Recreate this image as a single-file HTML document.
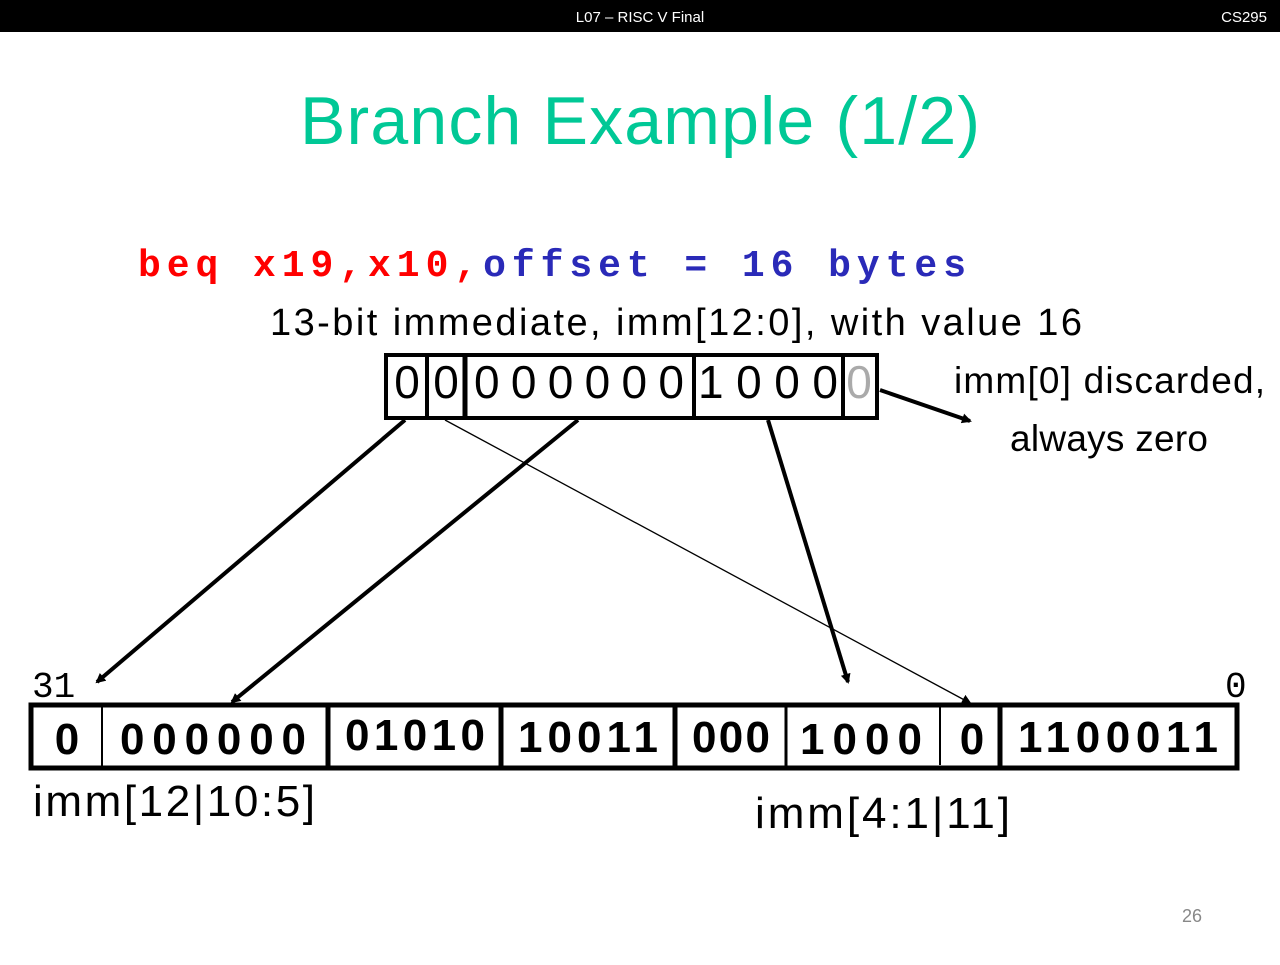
<!DOCTYPE html>
<html><head><style>
body{margin:0;width:1280px;height:960px;background:#fff;overflow:hidden}
</style></head><body>
<svg width="1280" height="960" xmlns="http://www.w3.org/2000/svg" font-family="Liberation Sans, sans-serif">
<defs><marker id="a" markerWidth="10" markerHeight="10" refX="8" refY="5" orient="auto" markerUnits="userSpaceOnUse"><path d="M0,0 L10,5 L0,10 z" fill="#000"/></marker></defs>
<rect x="0" y="0" width="1280" height="32" fill="#000"/>
<text x="640" y="22" fill="#fff" font-size="15" text-anchor="middle">L07 – RISC V Final</text>
<text x="1267" y="22" fill="#fff" font-size="15" text-anchor="end">CS295</text>
<text x="640" y="144" fill="#00c896" font-size="68" text-anchor="middle" textLength="680">Branch Example (1/2)</text>
<text x="138" y="276" font-family="Liberation Mono, monospace" font-weight="bold" font-size="38" textLength="828"><tspan fill="#f00">beq  x19,x10,</tspan><tspan fill="#2a2ab8">offset = 16 bytes</tspan></text>
<text x="270" y="335" font-size="38" textLength="812">13-bit immediate, imm[12:0], with value 16</text>
<g fill="none" stroke="#000" stroke-width="4">
<rect x="386" y="355" width="491" height="63"/>
<line x1="427" y1="355" x2="427" y2="418"/><line x1="465" y1="355" x2="465" y2="418" stroke-width="5"/>
<line x1="694" y1="355" x2="694" y2="418"/><line x1="843" y1="355" x2="843" y2="418"/>
</g>
<g font-size="46" font-weight="300" text-anchor="middle">
<text x="407" y="398">0</text><text x="446" y="398">0</text>
<text x="579" y="398" textLength="210">000000</text>
<text x="768" y="398" textLength="140">1000</text>
<text x="859" y="398" fill="#aaa">0</text>
</g>
<text x="954" y="393" font-size="37" textLength="311">imm[0] discarded,</text>
<text x="1010" y="451" font-size="37" textLength="198">always zero</text>
<g stroke="#000" stroke-width="4" marker-end="url(#a)">
<line x1="405" y1="420" x2="97" y2="682"/>
<line x1="578" y1="420" x2="232" y2="702"/>
<line x1="768" y1="420" x2="848" y2="682"/>
<line x1="880" y1="390" x2="970" y2="421"/>
</g>
<line x1="445" y1="420" x2="970" y2="703" stroke="#000" stroke-width="1.3" marker-end="url(#a)"/>
<text x="32" y="697" font-size="36" font-family="Liberation Mono, monospace">31</text>
<text x="1225" y="697" font-size="36" font-family="Liberation Mono, monospace">0</text>
<g fill="none" stroke="#000" stroke-width="5">
<rect x="31" y="705" width="1206" height="63"/>
<line x1="102" y1="705" x2="102" y2="768" stroke-width="2"/>
<line x1="328" y1="705" x2="328" y2="768"/>
<line x1="501" y1="705" x2="501" y2="768"/>
<line x1="675" y1="705" x2="675" y2="768"/>
<line x1="786" y1="705" x2="786" y2="768" stroke-width="3"/>
<line x1="940" y1="705" x2="940" y2="765" stroke-width="2"/>
<line x1="1000" y1="705" x2="1000" y2="768"/>
</g>
<g font-size="44" text-anchor="middle" font-weight="bold">
<text x="67" y="754">0</text>
<text x="213" y="754" textLength="186">000000</text>
<text x="415" y="750" textLength="140">01010</text>
<text x="588" y="752" textLength="140">10011</text>
<text x="731" y="752" textLength="78">000</text>
<text x="861" y="754" textLength="122">1000</text>
<text x="972" y="754">0</text>
<text x="1118" y="752" textLength="200">1100011</text>
</g>
<text x="33" y="816" font-size="44" textLength="282">imm[12|10:5]</text>
<text x="755" y="828" font-size="44" textLength="255">imm[4:1|11]</text>
<text x="1192" y="922" font-size="18" fill="#888" text-anchor="middle">26</text>
</svg>
</body></html>
